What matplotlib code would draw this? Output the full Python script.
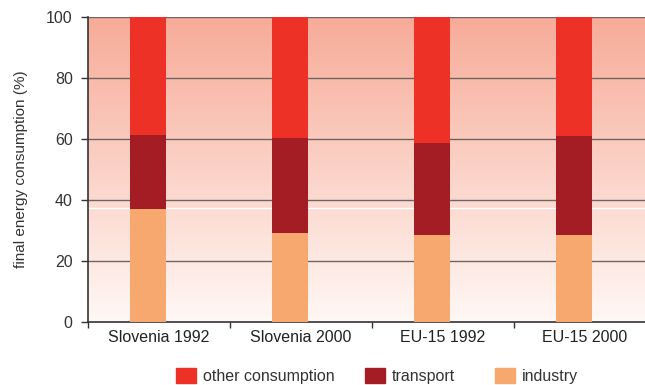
import numpy as np
import matplotlib
matplotlib.use("Agg")
from matplotlib import pyplot as plt
from matplotlib.patches import Patch
from matplotlib.colors import LinearSegmentedColormap

plt.rcParams['font.family'] = ['Liberation Sans', 'DejaVu Sans']

# Dane (%)
categories = ["Slovenia 1992", "Slovenia 2000", "EU-15 1992", "EU-15 2000"]
industry = [37.0, 29.2, 28.5, 28.5]
transport = [24.3, 31.1, 30.2, 32.5]
other = [38.7, 39.7, 41.3, 39.0]
series_names = ["other consumption", "transport", "industry"]
yticks = [0, 20, 40, 60, 80, 100]

c_other = "#EE3127"
c_transport = "#A51D24"
c_industry = "#F7A86F"

fig = plt.figure(figsize=(6.45, 3.85), dpi=100)
ax = fig.add_axes([88/645, 1 - 322/385, (656 - 88)/645, (322 - 17)/385])

# Tło z gradientem
grad = np.linspace(0, 1, 256).reshape(-1, 1)
cmap = LinearSegmentedColormap.from_list("bg", ["#FFF8F5", "#F7AB98"])
ax.imshow(grad, aspect='auto', cmap=cmap, origin='lower',
          extent=[-0.5, 3.5, 0, 100], zorder=0)
ax.axhline(37.3, color='white', lw=1.0, zorder=1)

for y in yticks[1:]:
    ax.axhline(y, color='#6E6563', lw=1.0, zorder=2)

x = np.arange(len(categories))
xb = x - 0.077  # słupki lekko przesunięte w lewo
w = 0.25
ax.bar(xb, industry, w, color=c_industry, zorder=3)
ax.bar(xb, transport, w, bottom=industry, color=c_transport, zorder=3)
bottom2 = np.array(industry) + np.array(transport)
ax.bar(xb, other, w, bottom=bottom2, color=c_other, zorder=3)

ax.set_xlim(-0.5, 3.5)
ax.set_ylim(0, 100)
ax.set_yticks(yticks)
ax.set_yticklabels([str(v) for v in yticks], fontsize=11.5, color='#333333')
ax.set_xticks(x)
ax.set_xticklabels(categories, fontsize=11.5, color='#222222')
ax.set_xticks(np.arange(-0.5, 4.0, 1.0), minor=True)
ax.tick_params(axis='x', which='major', length=0, pad=6)
ax.tick_params(axis='x', which='minor', length=4, width=1, color='#333333')
ax.tick_params(axis='y', length=5, width=1, color='#333333', pad=6)

for s in ['top', 'right']:
    ax.spines[s].set_visible(False)
ax.spines['left'].set_color('#333333')
ax.spines['bottom'].set_color('#333333')
ax.spines['left'].set_linewidth(1.2)
ax.spines['bottom'].set_linewidth(1.2)

ax.set_ylabel("final energy consumption (%)", fontsize=11, color='#333333', labelpad=13)

# Legenda - każdy wpis osobno, żeby ustawić odstępy jak w oryginale
colors = [c_other, c_transport, c_industry]
leg_x = [162, 351, 481]
for name, c, lx in zip(series_names, colors, leg_x):
    leg = fig.legend([Patch(color=c)], [name], loc='lower left',
                     bbox_to_anchor=(lx/645, -0.035), frameon=False, fontsize=11.5,
                     handlelength=1.2, handleheight=1.0, handletextpad=0.45,
                     labelcolor='#333333')

fig.savefig("out.png", dpi=100)
